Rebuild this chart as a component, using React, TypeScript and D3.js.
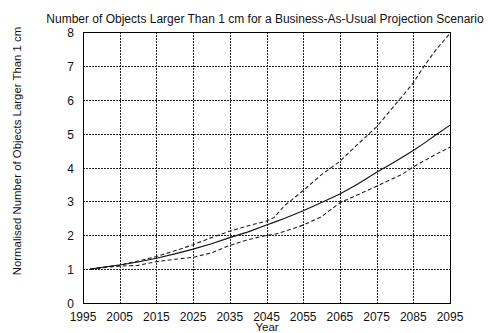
import React from "react";
import * as d3 from "d3";

// Projection years shared by all three series
const years = [1997, 2000, 2005, 2010, 2015, 2020, 2025, 2030, 2035, 2040, 2045, 2047, 2050, 2055, 2060, 2065, 2070, 2075, 2080, 2082, 2085, 2088, 2091, 2095];

// Mean projection (solid)
const meanValues = [1.0, 1.05, 1.12, 1.21, 1.32, 1.45, 1.59, 1.75, 1.93, 2.1, 2.3, 2.38, 2.5, 2.72, 2.97, 3.22, 3.52, 3.86, 4.17, 4.3, 4.5, 4.72, 4.95, 5.25];
// Upper bound (dashed)
const upperValues = [1.0, 1.05, 1.12, 1.24, 1.37, 1.54, 1.72, 1.93, 2.12, 2.28, 2.42, 2.52, 2.88, 3.32, 3.79, 4.18, 4.7, 5.2, 5.85, 6.1, 6.5, 7.0, 7.45, 7.96];
// Lower bound (dashed)
const lowerValues = [1.0, 1.04, 1.09, 1.11, 1.22, 1.29, 1.35, 1.48, 1.7, 1.87, 2.0, 2.02, 2.12, 2.3, 2.55, 2.96, 3.2, 3.45, 3.7, 3.8, 4.02, 4.2, 4.38, 4.6];

const xTicks = [1995, 2005, 2015, 2025, 2035, 2045, 2055, 2065, 2075, 2085, 2095];
const yTicks = [0, 1, 2, 3, 4, 5, 6, 7, 8];

const title = "Number of Objects Larger Than 1 cm for a Business-As-Usual Projection Scenario";
const xLabel = "Year";
const yLabel = "Normalised Number of Objects Larger Than 1 cm";

const W = 504;
const H = 333;
const left = 83;
const right = 450;
const top = 32;
const bottom = 303;
const font = "'Liberation Sans', Arial, Helvetica, sans-serif";

export default function App() {
  const x = d3.scaleLinear().domain([1995, 2095]).range([left, right]);
  const y = d3.scaleLinear().domain([0, 8]).range([bottom, top]);

  const line = (vals: number[]) =>
    d3
      .line<number>()
      .x((_, i) => x(years[i]))
      .y((v) => y(v))(vals) as string;

  return (
    <svg
      width={W}
      height={H}
      viewBox={`0 0 ${W} ${H}`}
      style={{ position: "absolute", left: 0, top: 0, background: "#fff" }}
    >
      <rect x={0} y={0} width={W} height={H} fill="#fff" />
      {/* dotted grid */}
      <g stroke="#222" strokeWidth={1} strokeDasharray="1.5,1.5" shapeRendering="crispEdges">
        {xTicks.slice(1, -1).map((t) => (
          <line key={"gx" + t} x1={Math.round(x(t)) + 0.5} x2={Math.round(x(t)) + 0.5} y1={top} y2={bottom} />
        ))}
        {yTicks.slice(1, -1).map((t) => (
          <line key={"gy" + t} x1={left} x2={right} y1={Math.round(y(t)) + 0.5} y2={Math.round(y(t)) + 0.5} />
        ))}
      </g>
      {/* frame */}
      <rect
        x={left + 0.5}
        y={top + 0.5}
        width={right - left}
        height={bottom - top}
        fill="none"
        stroke="#000"
        strokeWidth={1}
        shapeRendering="crispEdges"
      />
      {/* series */}
      <g fill="none" strokeWidth={1.1}>
        <path d={line(upperValues)} stroke="#222" strokeDasharray="4,2.5" />
        <path d={line(lowerValues)} stroke="#222" strokeDasharray="4,2.5" />
        <path d={line(meanValues)} stroke="#111" />
      </g>
      {/* tick labels */}
      <g fontFamily={font} fontSize={12} fill="#111">
        {yTicks.map((t) => (
          <text key={"ty" + t} x={74} y={y(t) + 1} textAnchor="end" dominantBaseline="central">
            {t}
          </text>
        ))}
        {xTicks.map((t) => (
          <text key={"tx" + t} x={x(t)} y={320.5} textAnchor="middle">
            {t}
          </text>
        ))}
        <text x={267} y={331} fontSize={11.5} textAnchor="middle">
          {xLabel}
        </text>
        <text x={265} y={23} textAnchor="middle">
          {title}
        </text>
        <text transform="translate(21,151) rotate(-90)" fontSize={11.4} textAnchor="middle">
          {yLabel}
        </text>
      </g>
    </svg>
  );
}
